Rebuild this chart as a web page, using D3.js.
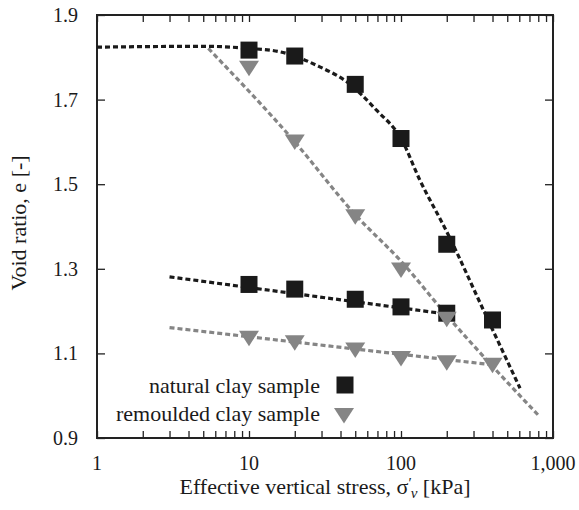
<!DOCTYPE html>
<html>
<head>
<meta charset="utf-8">
<script src="https://cdn.jsdelivr.net/npm/d3@7"></script>
<style>
  html, body { margin: 0; padding: 0; background: #fff; }
</style>
</head>
<body>
<svg id="chart" width="579" height="510" font-family="'Liberation Serif', 'Times New Roman', Times, serif"></svg>
<script>
// ---- data ----
const stressLoad = [10, 20, 50, 100, 200, 400];
const stressUnload = [200, 100, 50, 20, 10];
const naturalLoad = [1.817, 1.803, 1.736, 1.608, 1.358, 1.179];
const naturalUnload = [1.195, 1.210, 1.228, 1.252, 1.263];
const remouldedLoad = [1.774, 1.600, 1.423, 1.297, 1.181, 1.072];
const remouldedUnload = [1.078, 1.088, 1.108, 1.125, 1.136];

// fitted curves
const naturalFitX = [1, 5, 10, 16, 29, 44, 69, 100, 133, 205, 348, 607];
const naturalFitY = [1.824, 1.826, 1.821, 1.813, 1.778, 1.742, 1.675, 1.608, 1.510, 1.380, 1.203, 1.0175];
const remouldedFitX = [5.4, 20, 50, 100, 200, 800];
const remouldedFitY = [1.821, 1.600, 1.428, 1.318, 1.190, 0.954];
const naturalUnloadFitX = [3, 200];
const naturalUnloadFitY = [1.281, 1.193];
const remouldedUnloadFitX = [3, 400];
const remouldedUnloadFitY = [1.161, 1.073];

const xTickValues = [1, 10, 100, 1000];
const xTickLabels = ["1", "10", "100", "1,000"];
const yTickValues = [0.9, 1.1, 1.3, 1.5, 1.7, 1.9];
const yTickLabels = ["0.9", "1.1", "1.3", "1.5", "1.7", "1.9"];
const legendLabels = ["natural clay sample", "remoulded clay sample"];

// ---- layout ----
const L = 97, R = 553, T = 15, B = 438;
const black = "#1a1a1a", gray = "#858585", ink = "#1a1a1a";
const svg = d3.select("#chart");
const x = d3.scaleLog().domain([1, 1000]).range([L, R]);
const y = d3.scaleLinear().domain([0.9, 1.9]).range([B, T]);

const minorTicks = [];
[1, 10, 100].forEach(d => { for (let k = 2; k <= 9; k++) minorTicks.push(d * k); });
const allXTicks = xTickValues.concat(minorTicks);

// axes (inward ticks)
const axB = svg.append("g").attr("transform", `translate(0,${B})`)
  .call(d3.axisBottom(x).tickValues(allXTicks).tickSize(-7).tickFormat(""));
const axT = svg.append("g").attr("transform", `translate(0,${T})`)
  .call(d3.axisTop(x).tickValues(allXTicks).tickSize(-7).tickFormat(""));
const axL = svg.append("g").attr("transform", `translate(${L},0)`)
  .call(d3.axisLeft(y).tickValues(yTickValues).tickSize(-8).tickFormat(""));
const axRr = svg.append("g").attr("transform", `translate(${R},0)`)
  .call(d3.axisRight(y).tickValues(yTickValues).tickSize(-8).tickFormat(""));
[axB, axT, axL, axRr].forEach(g => {
  g.select(".domain").remove();
  g.selectAll(".tick line").attr("stroke", "#222").attr("stroke-width", 1.3);
});

// tick labels
svg.append("g").selectAll("text").data(xTickValues).join("text")
  .attr("x", d => x(d)).attr("y", 470)
  .attr("text-anchor", "middle").attr("font-size", 20).attr("fill", ink)
  .text((d, i) => xTickLabels[i]);
svg.append("g").selectAll("text").data(yTickValues).join("text")
  .attr("x", 78).attr("y", d => y(d) + 7)
  .attr("text-anchor", "end").attr("font-size", 20).attr("fill", ink)
  .text((d, i) => yTickLabels[i]);

// frame
svg.append("rect").attr("x", L).attr("y", T).attr("width", R - L).attr("height", B - T)
  .attr("fill", "none").attr("stroke", "#222").attr("stroke-width", 2);

// lines
const line = d3.line().x(d => x(d[0])).y(d => y(d[1])).curve(d3.curveMonotoneX);
const straight = d3.line().x(d => x(d[0])).y(d => y(d[1]));
function drawLine(xs, ys, color, gen) {
  svg.append("path").datum(xs.map((v, i) => [v, ys[i]]))
    .attr("d", gen).attr("fill", "none").attr("stroke", color)
    .attr("stroke-width", 3.2).attr("stroke-dasharray", "5,3");
}
drawLine(remouldedFitX, remouldedFitY, gray, line);
drawLine(remouldedUnloadFitX, remouldedUnloadFitY, gray, straight);
drawLine(naturalFitX, naturalFitY, black, line);
drawLine(naturalUnloadFitX, naturalUnloadFitY, black, straight);

// markers
const SQ = 17;
function squares(xs, ys) {
  svg.append("g").selectAll("rect").data(xs.map((v, i) => [v, ys[i]])).join("rect")
    .attr("x", d => x(d[0]) - SQ / 2).attr("y", d => y(d[1]) - SQ / 2)
    .attr("width", SQ).attr("height", SQ).attr("fill", black);
}
const triPath = "M-10,-7.5L10,-7.5L0,8Z";
function triangles(xs, ys) {
  svg.append("g").selectAll("path").data(xs.map((v, i) => [v, ys[i]])).join("path")
    .attr("transform", d => `translate(${x(d[0])},${y(d[1])})`)
    .attr("d", triPath).attr("fill", gray);
}
squares(stressLoad, naturalLoad);
squares(stressUnload, naturalUnload);
triangles(stressLoad, remouldedLoad);
triangles(stressUnload, remouldedUnload);

// legend
svg.append("text").attr("x", 320).attr("y", 393).attr("text-anchor", "end")
  .attr("font-size", 22).attr("fill", ink).text(legendLabels[0]);
svg.append("rect").attr("x", 345 - SQ / 2).attr("y", 385 - SQ / 2)
  .attr("width", SQ).attr("height", SQ).attr("fill", black);
svg.append("text").attr("x", 320).attr("y", 421).attr("text-anchor", "end")
  .attr("font-size", 22).attr("fill", ink).text(legendLabels[1]);
svg.append("path").attr("transform", "translate(344,415.5)").attr("d", triPath).attr("fill", gray);

// axis titles
const xt = svg.append("text").attr("x", 325).attr("y", 494).attr("text-anchor", "middle")
  .attr("font-size", 22).attr("fill", ink);
xt.append("tspan").text("Effective vertical stress, σ");
xt.append("tspan").attr("font-size", 15).attr("dy", -6).text("′");
xt.append("tspan").attr("font-size", 15).attr("dx", -1).attr("dy", 10).attr("font-style", "italic").text("ν");
xt.append("tspan").attr("dy", -4).text(" [kPa]");

svg.append("text").attr("transform", "translate(26,223) rotate(-90)")
  .attr("text-anchor", "middle").attr("font-size", 22).attr("fill", ink).text("Void ratio, e [-]");
</script>
</body>
</html>
